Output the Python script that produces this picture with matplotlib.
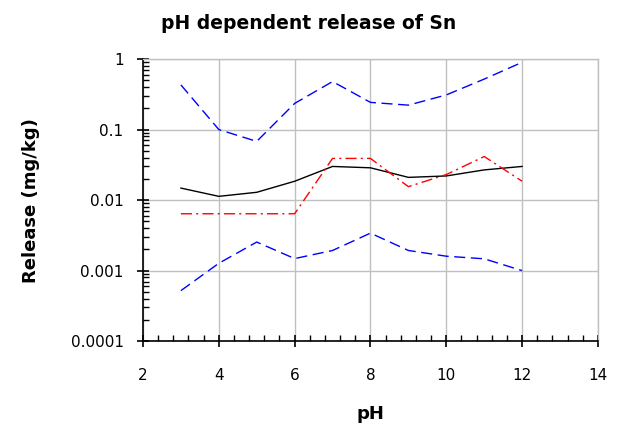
import matplotlib
matplotlib.use("Agg")
import matplotlib.pyplot as plt
from matplotlib.ticker import MultipleLocator, LogLocator, FixedLocator, FixedFormatter

ph = [3, 4, 5, 6, 7, 8, 9, 10, 11, 12]
upper = [0.43, 0.10, 0.068, 0.235, 0.48, 0.243, 0.222, 0.31, 0.52, 0.90]
median = [0.0148, 0.0113, 0.0129, 0.0185, 0.030, 0.0287, 0.021, 0.022, 0.0268, 0.030]
sample = [0.0064, 0.0064, 0.0064, 0.0064, 0.039, 0.039, 0.0155, 0.023, 0.0415, 0.0185]
lower = [0.00052, 0.00127, 0.00254, 0.00148, 0.00193, 0.0034, 0.00193, 0.0016, 0.00147, 0.0010]

ytick_vals = [0.0001, 0.001, 0.01, 0.1, 1]
ytick_labels = ["0.0001", "0.001", "0.01", "0.1", "1"]

fig = plt.figure(figsize=(6.19, 4.28), dpi=100)
ax = fig.add_axes([0.231, 0.203, 0.735, 0.659])

ax.plot(ph, upper, color="#0000ff", lw=1.0, linestyle=(0, (8, 4)))
ax.plot(ph, lower, color="#0000ff", lw=1.0, linestyle=(0, (8, 4)))
ax.plot(ph, median, color="black", lw=1.0)
ax.plot(ph, sample, color="#ff0000", lw=1.0, linestyle=(0, (8, 3, 1.5, 3)))

ax.set_yscale("log")
ax.set_ylim(0.0001, 1)
ax.set_xlim(2, 14)
ax.xaxis.set_major_locator(MultipleLocator(2))
ax.xaxis.set_minor_locator(MultipleLocator(0.4))
ax.yaxis.set_major_locator(FixedLocator(ytick_vals))
ax.yaxis.set_major_formatter(FixedFormatter(ytick_labels))
ax.yaxis.set_minor_locator(LogLocator(base=10, subs=range(2, 10)))
ax.yaxis.set_minor_formatter(FixedFormatter([]))

ax.grid(True, which="major", color="#c0c0c0", lw=1.0)
ax.set_axisbelow(True)
for s in ["top", "right"]:
    ax.spines[s].set_color("#c0c0c0")
    ax.spines[s].set_linewidth(1.0)
for s in ["left", "bottom"]:
    ax.spines[s].set_color("black")
    ax.spines[s].set_linewidth(1.2)

ax.tick_params(which="major", direction="inout", length=8, width=1.2, labelsize=11, color="black")
ax.tick_params(which="minor", direction="in", length=4, width=1.0, color="black")
ax.tick_params(axis="y", which="major", pad=10)
ax.tick_params(axis="x", which="major", pad=15)

ax.set_title("pH dependent release of Sn", fontsize=13.5, fontweight="bold", x=0.363, pad=22)
ax.set_xlabel("pH", fontsize=13, fontweight="bold", labelpad=16)
ax.set_ylabel("Release (mg/kg)", fontsize=13, fontweight="bold", labelpad=22)

fig.savefig("out.png", dpi=100)
